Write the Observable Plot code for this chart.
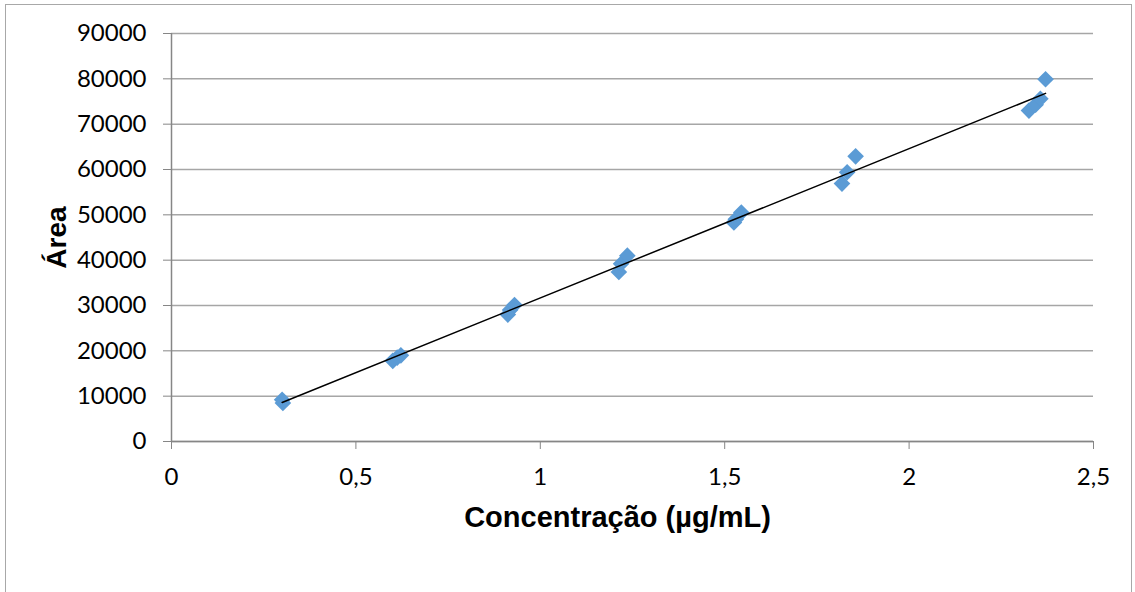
<!DOCTYPE html>
<html>
<head>
<meta charset="utf-8">
<script src="https://cdn.jsdelivr.net/npm/d3@7"></script>
<script src="https://cdn.jsdelivr.net/npm/@observablehq/plot@0.6"></script>
<style>
  html, body { margin: 0; padding: 0; background: #fff; }
  #chart { position: relative; width: 1135px; height: 592px; overflow: hidden; background: #fff; }
  #frame { position: absolute; left: 5px; top: 4px; width: 1127px; height: 640px; border: 1.5px solid #a8a8a8; box-sizing: border-box; }
  #chart svg { position: absolute; left: 0; top: 0; }
</style>
</head>
<body>
<div id="chart"><div id="frame"></div></div>
<script>
// Calibration curve: peak area versus concentration (µg/mL)
const concentration = [0.300, 0.302, 0.600, 0.612, 0.622, 0.912, 0.918, 0.930, 1.213, 1.219, 1.236, 1.525, 1.530, 1.545, 1.818, 1.832, 1.855, 2.325, 2.343, 2.356, 2.370];
const area = [9200, 8500, 17800, 18500, 19000, 28000, 29000, 30100, 37400, 39200, 41000, 48300, 49000, 50500, 56900, 59400, 62900, 73000, 74300, 75600, 79900];

const xTicks = [0, 0.5, 1, 1.5, 2, 2.5];
const yTicks = [0, 10000, 20000, 30000, 40000, 50000, 60000, 70000, 80000, 90000];

const xTitle = "Concentração (µg/mL)";
const yTitle = "Área";

const points = concentration.map((c, i) => ({c, a: area[i]}));
const comma = d => String(d).replace(".", ",");

const tickFont = "Lato, 'Open Sans', sans-serif";
const titleFont = "'Liberation Sans', Arial, sans-serif";

const chart = Plot.plot({
  width: 1135,
  height: 592,
  marginLeft: 171,
  marginRight: 42,
  marginTop: 33,
  marginBottom: 151,
  style: {fontFamily: tickFont, fontSize: "24px", color: "#000", background: "transparent"},
  x: {domain: [0, 2.5]},
  y: {domain: [0, 90000]},
  marks: [
    Plot.gridY(yTicks, {stroke: "#a6a6a6", strokeOpacity: 1, strokeWidth: 1.5}),
    Plot.axisY(yTicks, {tickSize: 8, tickPadding: 17, stroke: "#868686", fill: "#000", tickFormat: d => String(d), label: null, fontSize: 24}),
    Plot.axisX(xTicks, {tickSize: 8, tickPadding: 18, stroke: "#868686", fill: "#000", tickFormat: comma, label: null, fontSize: 24}),
    Plot.ruleX([0], {y1: 0, y2: 90000, stroke: "#868686", strokeWidth: 1.5}),
    Plot.ruleY([0], {stroke: "#868686", strokeWidth: 1.5}),
    Plot.dot(points, {x: "c", y: "a", symbol: "diamond2", r: 7.5, fill: "#5b9bd5", stroke: "none"}),
    Plot.linearRegressionY(points, {x: "c", y: "a", ci: 0, stroke: "#000", strokeWidth: 1.5}),
    Plot.text([xTitle], {frameAnchor: "bottom", lineAnchor: "middle", textAnchor: "middle", dx: -15, dy: 76, fontWeight: "bold", fontSize: 29, fontFamily: titleFont}),
    Plot.text([yTitle], {frameAnchor: "left", lineAnchor: "middle", textAnchor: "middle", rotate: -90, dx: -114, fontWeight: "bold", fontSize: 28, fontFamily: titleFont})
  ]
});

document.getElementById("chart").appendChild(chart);
</script>
</body>
</html>
